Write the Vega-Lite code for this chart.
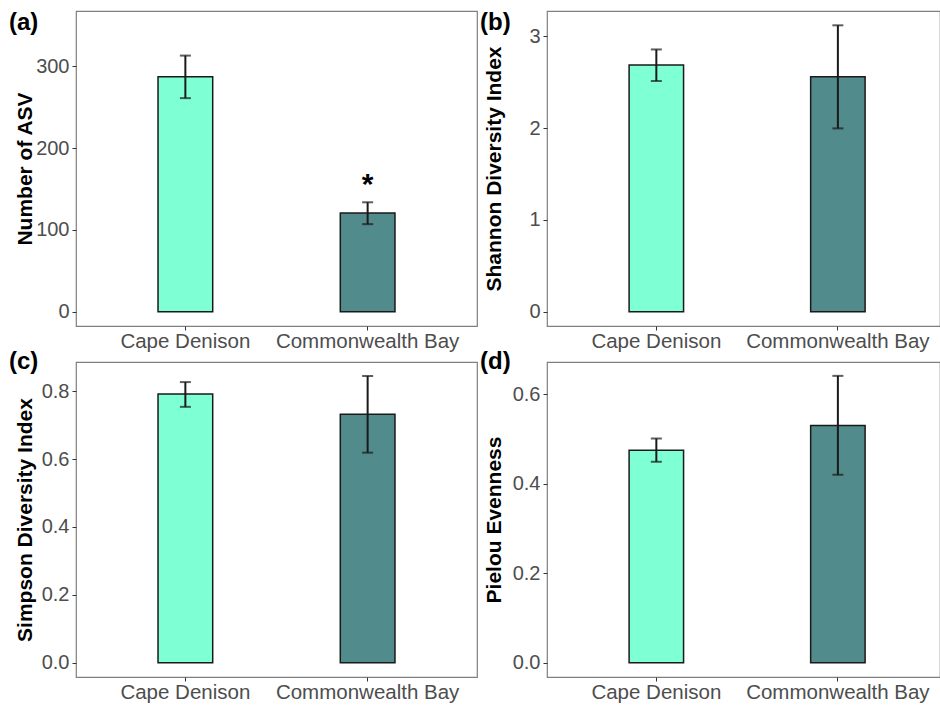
{
  "$schema": "https://vega.github.io/schema/vega-lite/v6.json",
  "padding": {"left": 8, "top": 10, "right": 0, "bottom": 0},
  "datasets": {
    "div": [
      {"panel": "a", "site": "Cape Denison", "mean": 287, "lo": 261, "hi": 313, "sig": ""},
      {"panel": "a", "site": "Commonwealth Bay", "mean": 120.7, "lo": 107, "hi": 133.7, "sig": "*"},
      {"panel": "b", "site": "Cape Denison", "mean": 2.687, "lo": 2.513, "hi": 2.857, "sig": ""},
      {"panel": "b", "site": "Commonwealth Bay", "mean": 2.56, "lo": 1.997, "hi": 3.12, "sig": ""},
      {"panel": "c", "site": "Cape Denison", "mean": 0.792, "lo": 0.754, "hi": 0.827, "sig": ""},
      {"panel": "c", "site": "Commonwealth Bay", "mean": 0.732, "lo": 0.619, "hi": 0.845, "sig": ""},
      {"panel": "d", "site": "Cape Denison", "mean": 0.475, "lo": 0.449, "hi": 0.501, "sig": ""},
      {"panel": "d", "site": "Commonwealth Bay", "mean": 0.53, "lo": 0.42, "hi": 0.641, "sig": ""}
    ]
  },
  "columns": 2,
  "spacing": {"row": -4, "column": 1},
  "concat": [
    {
      "width": 401, "height": 315,
      "data": {"name": "div"},
      "title": {"text": "(a)", "anchor": "start", "frame": "bounds", "orient": "top", "offset": -24, "dx": -5, "fontSize": 24, "fontWeight": "bold", "color": "#000000", "font": "Liberation Sans"},
      "transform": [{"filter": "datum.panel === 'a'"}],
      "encoding": {"x": {"field": "site", "type": "nominal", "sort": ["Cape Denison", "Commonwealth Bay"], "scale": {"paddingInner": 0.7, "paddingOuter": 0.45}, "axis": {"title": null, "labelAngle": 0}}},
      "layer": [
        {"mark": {"type": "bar", "stroke": "#1a1a1a", "strokeWidth": 1.5},
         "encoding": {
           "y": {"field": "mean", "type": "quantitative", "title": "Number of ASV", "scale": {"domain": [-17.5, 367.5], "nice": false, "zero": false}, "axis": {"values": [0, 100, 200, 300], "format": "d", "minExtent": 41, "maxExtent": 41}},
           "color": {"field": "site", "type": "nominal", "scale": {"domain": ["Cape Denison", "Commonwealth Bay"], "range": ["#7FFFD4", "#528B8B"]}, "legend": null}}},
        {"mark": {"type": "rule", "strokeWidth": 2, "color": "#1a1a1a"}, "encoding": {"y": {"field": "lo", "type": "quantitative", "title": "Number of ASV"}, "y2": {"field": "hi"}}},
        {"mark": {"type": "tick", "size": 11, "thickness": 2, "color": "#1a1a1a"}, "encoding": {"y": {"field": "lo", "type": "quantitative", "title": "Number of ASV"}}},
        {"mark": {"type": "tick", "size": 11, "thickness": 2, "color": "#1a1a1a"}, "encoding": {"y": {"field": "hi", "type": "quantitative", "title": "Number of ASV"}}},
        {"mark": {"type": "text", "fontSize": 30, "fontWeight": "bold", "color": "#000000", "baseline": "alphabetic", "dy": -8}, "encoding": {"y": {"field": "hi", "type": "quantitative", "title": "Number of ASV"}, "text": {"field": "sig"}}}
      ]
    },
    {
      "width": 393, "height": 315,
      "data": {"name": "div"},
      "title": {"text": "(b)", "anchor": "start", "frame": "bounds", "orient": "top", "offset": -24, "dx": -3, "fontSize": 24, "fontWeight": "bold", "color": "#000000", "font": "Liberation Sans"},
      "transform": [{"filter": "datum.panel === 'b'"}],
      "encoding": {"x": {"field": "site", "type": "nominal", "sort": ["Cape Denison", "Commonwealth Bay"], "scale": {"paddingInner": 0.7, "paddingOuter": 0.4324, "align": 0.523}, "axis": {"title": null, "labelAngle": 0}}},
      "layer": [
        {"mark": {"type": "bar", "stroke": "#1a1a1a", "strokeWidth": 1.5},
         "encoding": {
           "y": {"field": "mean", "type": "quantitative", "title": "Shannon Diversity Index", "scale": {"domain": [-0.156, 3.276], "nice": false, "zero": false}, "axis": {"values": [0, 1, 2, 3], "format": "d", "minExtent": 43, "maxExtent": 43}},
           "color": {"field": "site", "type": "nominal", "scale": {"domain": ["Cape Denison", "Commonwealth Bay"], "range": ["#7FFFD4", "#528B8B"]}, "legend": null}}},
        {"mark": {"type": "rule", "strokeWidth": 2, "color": "#1a1a1a"}, "encoding": {"y": {"field": "lo", "type": "quantitative", "title": "Shannon Diversity Index"}, "y2": {"field": "hi"}}},
        {"mark": {"type": "tick", "size": 11, "thickness": 2, "color": "#1a1a1a"}, "encoding": {"y": {"field": "lo", "type": "quantitative", "title": "Shannon Diversity Index"}}},
        {"mark": {"type": "tick", "size": 11, "thickness": 2, "color": "#1a1a1a"}, "encoding": {"y": {"field": "hi", "type": "quantitative", "title": "Shannon Diversity Index"}}}
      ]
    },
    {
      "width": 401, "height": 315,
      "data": {"name": "div"},
      "title": {"text": "(c)", "anchor": "start", "frame": "bounds", "orient": "top", "offset": -12, "dx": -5, "fontSize": 24, "fontWeight": "bold", "color": "#000000", "font": "Liberation Sans"},
      "transform": [{"filter": "datum.panel === 'c'"}],
      "encoding": {"x": {"field": "site", "type": "nominal", "sort": ["Cape Denison", "Commonwealth Bay"], "scale": {"paddingInner": 0.7, "paddingOuter": 0.45}, "axis": {"title": null, "labelAngle": 0}}},
      "layer": [
        {"mark": {"type": "bar", "stroke": "#1a1a1a", "strokeWidth": 1.5},
         "encoding": {
           "y": {"field": "mean", "type": "quantitative", "title": "Simpson Diversity Index", "scale": {"domain": [-0.0422, 0.8862], "nice": false, "zero": false}, "axis": {"values": [0, 0.2, 0.4, 0.6, 0.8], "format": ".1f", "minExtent": 41, "maxExtent": 41}},
           "color": {"field": "site", "type": "nominal", "scale": {"domain": ["Cape Denison", "Commonwealth Bay"], "range": ["#7FFFD4", "#528B8B"]}, "legend": null}}},
        {"mark": {"type": "rule", "strokeWidth": 2, "color": "#1a1a1a"}, "encoding": {"y": {"field": "lo", "type": "quantitative", "title": "Simpson Diversity Index"}, "y2": {"field": "hi"}}},
        {"mark": {"type": "tick", "size": 11, "thickness": 2, "color": "#1a1a1a"}, "encoding": {"y": {"field": "lo", "type": "quantitative", "title": "Simpson Diversity Index"}}},
        {"mark": {"type": "tick", "size": 11, "thickness": 2, "color": "#1a1a1a"}, "encoding": {"y": {"field": "hi", "type": "quantitative", "title": "Simpson Diversity Index"}}}
      ]
    },
    {
      "width": 393, "height": 315,
      "data": {"name": "div"},
      "title": {"text": "(d)", "anchor": "start", "frame": "bounds", "orient": "top", "offset": -12, "dx": -3, "fontSize": 24, "fontWeight": "bold", "color": "#000000", "font": "Liberation Sans"},
      "transform": [{"filter": "datum.panel === 'd'"}],
      "encoding": {"x": {"field": "site", "type": "nominal", "sort": ["Cape Denison", "Commonwealth Bay"], "scale": {"paddingInner": 0.7, "paddingOuter": 0.4324, "align": 0.523}, "axis": {"title": null, "labelAngle": 0}}},
      "layer": [
        {"mark": {"type": "bar", "stroke": "#1a1a1a", "strokeWidth": 1.5},
         "encoding": {
           "y": {"field": "mean", "type": "quantitative", "title": "Pielou Evenness", "scale": {"domain": [-0.032, 0.672], "nice": false, "zero": false}, "axis": {"values": [0, 0.2, 0.4, 0.6], "format": ".1f", "minExtent": 43, "maxExtent": 43}},
           "color": {"field": "site", "type": "nominal", "scale": {"domain": ["Cape Denison", "Commonwealth Bay"], "range": ["#7FFFD4", "#528B8B"]}, "legend": null}}},
        {"mark": {"type": "rule", "strokeWidth": 2, "color": "#1a1a1a"}, "encoding": {"y": {"field": "lo", "type": "quantitative", "title": "Pielou Evenness"}, "y2": {"field": "hi"}}},
        {"mark": {"type": "tick", "size": 11, "thickness": 2, "color": "#1a1a1a"}, "encoding": {"y": {"field": "lo", "type": "quantitative", "title": "Pielou Evenness"}}},
        {"mark": {"type": "tick", "size": 11, "thickness": 2, "color": "#1a1a1a"}, "encoding": {"y": {"field": "hi", "type": "quantitative", "title": "Pielou Evenness"}}}
      ]
    }
  ],
  "config": {
    "font": "Liberation Sans",
    "view": {"stroke": "#7F7F7F", "strokeWidth": 1.2},
    "axis": {"domain": false, "grid": false, "ticks": true, "tickColor": "#333333", "tickSize": 4, "labelColor": "#4D4D4D", "labelFontSize": 20, "labelLimit": 0, "titleFontSize": 21, "titleFontWeight": "bold", "titleColor": "#000000", "labelFont": "Liberation Sans", "titleFont": "Liberation Sans"},
    "axisX": {"labelPadding": 1, "labelFontSize": 20.5},
    "axisY": {"labelPadding": 3, "titlePadding": 0}
  }
}
